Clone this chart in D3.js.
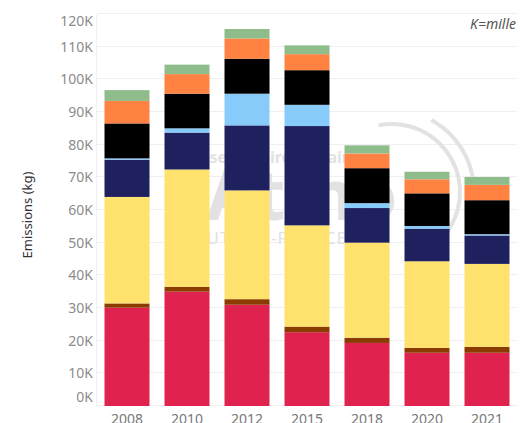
<!DOCTYPE html>
<meta charset="utf-8">
<script src="https://cdn.jsdelivr.net/npm/d3@7"></script>
<style>
  body { margin: 0; background: #fff; }
  svg { display: block; font-family: "Noto Sans", sans-serif; }
</style>
<div id="chart"></div>
<script>
  // data, in thousands of kg
  var years = ["2008", "2010", "2012", "2015", "2018", "2020", "2021"];
  var serie1 = [30.1, 35.0, 31.0, 22.6, 19.3, 16.3, 16.3];   // red
  var serie2 = [1.3, 1.5, 1.7, 1.7, 1.6, 1.5, 1.8];          // brown
  var serie3 = [32.6, 35.9, 33.3, 31.0, 29.1, 26.5, 25.4];   // yellow
  var serie4 = [11.4, 11.3, 19.9, 30.4, 10.6, 10.0, 8.7];    // navy
  var serie5 = [0.4, 1.3, 9.7, 6.5, 1.5, 0.8, 0.4];          // light blue
  var serie6 = [10.7, 10.6, 10.7, 10.6, 10.7, 10.0, 10.4];   // black
  var serie7 = [6.9, 6.0, 6.2, 4.9, 4.5, 4.3, 4.7];          // orange
  var serie8 = [3.3, 2.9, 2.9, 2.7, 2.5, 2.3, 2.4];          // green
  var yTicks = [0, 10, 20, 30, 40, 50, 60, 70, 80, 90, 100, 110, 120];

  var series = [serie1, serie2, serie3, serie4, serie5, serie6, serie7, serie8];
  var keys = ["s1", "s2", "s3", "s4", "s5", "s6", "s7", "s8"];
  var colors = ["#e0234e", "#8b3c00", "#ffe26e", "#1f215f", "#87cbfb", "#000000", "#ff8243", "#8fbc8b"];

  var table = years.map(function(y, i) {
    var row = {year: y};
    keys.forEach(function(k, j) { row[k] = series[j][i] * 1000; });
    return row;
  });

  var width = 520, height = 423;
  var plot = {left: 97, right: 517, top: 14, bottom: 406};

  var svg = d3.select("#chart").append("svg")
    .attr("width", width)
    .attr("height", height);

  var x = d3.scaleBand()
    .domain(years)
    .range([plot.left, plot.right])
    .paddingInner(0.25)
    .paddingOuter(0.125);

  var y = d3.scaleLinear()
    .domain([0, 120000])
    .range([plot.bottom, plot.top]);

  // gridlines
  svg.append("g")
    .selectAll("line")
    .data(yTicks)
    .enter().append("line")
    .attr("x1", plot.left).attr("x2", plot.right)
    .attr("y1", function(d) { return Math.round(y(d * 1000)) - 0.5; })
    .attr("y2", function(d) { return Math.round(y(d * 1000)) - 0.5; })
    .attr("stroke", "#efefef");

  svg.append("line")
    .attr("x1", plot.left - 0.5).attr("x2", plot.left - 0.5)
    .attr("y1", plot.top).attr("y2", plot.bottom)
    .attr("stroke", "#f0f0f0");

  // watermark
  var wm = svg.append("g").attr("fill", "#e2e2e2");
  var arc = d3.arc();
  wm.append("path")
    .attr("transform", "translate(392,192)")
    .attr("d", arc({innerRadius: 66, outerRadius: 70, startAngle: -0.2, endAngle: 2.3}));
  wm.append("path")
    .attr("transform", "translate(392,192)")
    .attr("d", arc({innerRadius: 80, outerRadius: 84, startAngle: 0.5, endAngle: 2.0}));
  wm.append("text")
    .attr("x", 302).attr("y", 220)
    .attr("text-anchor", "middle")
    .style("font-size", "70px").style("font-weight", "bold")
    .text("Atmo");
  wm.append("text")
    .attr("x", 349).attr("y", 163)
    .attr("text-anchor", "end")
    .style("font-size", "16px").style("font-weight", "bold")
    .text("Observatoire de l'air");
  wm.append("text")
    .attr("x", 347).attr("y", 244)
    .attr("text-anchor", "end")
    .style("font-size", "17px").style("letter-spacing", "1px")
    .text("HAUTS-DE-FRANCE");

  // bars
  var stacked = d3.stack().keys(keys)(table);

  svg.append("g")
    .selectAll("g")
    .data(stacked)
    .enter().append("g")
    .attr("fill", function(d, i) { return colors[i]; })
    .selectAll("rect")
    .data(function(d) { return d; })
    .enter().append("rect")
    .attr("x", function(d) { return x(d.data.year); })
    .attr("width", x.bandwidth())
    .attr("y", function(d) { return y(d[1]); })
    .attr("height", function(d) { return y(d[0]) - y(d[1]); });

  // y axis labels (edge labels pushed inside like the original)
  svg.append("g")
    .selectAll("text")
    .data(yTicks)
    .enter().append("text")
    .attr("x", 93)
    .attr("y", function(d) {
      var p = y(d * 1000);
      if (d === 0) p -= 9;
      if (d === 120) p += 7;
      return p;
    })
    .attr("dy", "0.35em")
    .attr("text-anchor", "end")
    .attr("fill", "#8c8c8c")
    .style("font-size", "14px")
    .text(function(d) { return d + "K"; });

  // x axis labels
  svg.append("g")
    .selectAll("text")
    .data(years)
    .enter().append("text")
    .attr("x", function(d) { return x(d) + x.bandwidth() / 2; })
    .attr("y", 424)
    .attr("text-anchor", "middle")
    .attr("fill", "#777")
    .style("font-size", "14px")
    .text(function(d) { return d; });

  // y title
  svg.append("text")
    .attr("transform", "translate(32,215) rotate(-90)")
    .attr("text-anchor", "middle")
    .attr("fill", "#333")
    .style("font-size", "13px")
    .text("Emissions (kg)");

  svg.append("text")
    .attr("x", 516).attr("y", 29)
    .attr("text-anchor", "end")
    .attr("fill", "#555")
    .style("font-size", "14px").style("font-style", "italic")
    .text("K=mille");
</script>
